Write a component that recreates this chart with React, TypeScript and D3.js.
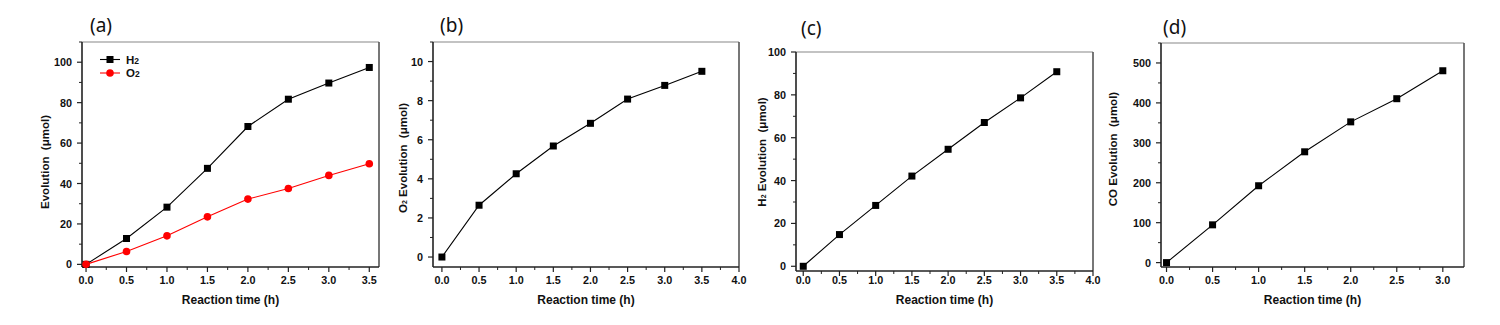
import React from "react";
import * as d3 from "d3";

const timesA = [0, 0.5, 1.0, 1.5, 2.0, 2.5, 3.0, 3.5];
const h2A = [0, 12.8, 28.3, 47.5, 68.2, 81.7, 89.7, 97.4];
const o2A = [0, 6.4, 14.1, 23.5, 32.3, 37.5, 44.0, 49.8];

const timesB = [0, 0.5, 1.0, 1.5, 2.0, 2.5, 3.0, 3.5];
const o2B = [0, 2.65, 4.26, 5.68, 6.84, 8.08, 8.78, 9.5];

const timesC = [0, 0.5, 1.0, 1.5, 2.0, 2.5, 3.0, 3.5];
const h2C = [0, 14.8, 28.4, 42.1, 54.6, 67.1, 78.6, 90.8];

const timesD = [0, 0.5, 1.0, 1.5, 2.0, 2.5, 3.0];
const coD = [0, 94.6, 192.5, 277.5, 352.5, 410.5, 480.5];

const xTicksA = [0, 0.5, 1.0, 1.5, 2.0, 2.5, 3.0, 3.5];
const xTicksB = [0, 0.5, 1.0, 1.5, 2.0, 2.5, 3.0, 3.5, 4.0];
const xTicksD = [0, 0.5, 1.0, 1.5, 2.0, 2.5, 3.0];
const yTicksA = [0, 20, 40, 60, 80, 100];
const yTicksB = [0, 2, 4, 6, 8, 10];
const yTicksC = [0, 20, 40, 60, 80, 100];
const yTicksD = [0, 100, 200, 300, 400, 500];

const FONT = "'Liberation Sans', Arial, sans-serif";

type Series = { xs: number[]; ys: number[]; color: string; marker: "square" | "circle" };

type PanelProps = {
  box: { l: number; t: number; r: number; b: number };
  xDomain: [number, number];
  yDomain: [number, number];
  xTicks: number[];
  yTicks: number[];
  xMinorStep: number;
  yMinorStep: number;
  series: Series[];
  label: string;
  labelPos: [number, number];
  yTitle: React.ReactNode;
  yTitlePos: [number, number];
  legend?: boolean;
};

function Panel(p: PanelProps) {
  const { l, t, r, b } = p.box;
  const x = d3.scaleLinear().domain(p.xDomain).range([l, r]);
  const y = d3.scaleLinear().domain(p.yDomain).range([b, t]);
  const xMinor = d3.range(0, p.xDomain[1] + 1e-9, p.xMinorStep).filter(
    (v) => !p.xTicks.some((tk) => Math.abs(tk - v) < 1e-9)
  );
  const yMinor = d3.range(0, p.yDomain[1] + 1e-9, p.yMinorStep).filter(
    (v) => !p.yTicks.some((tk) => Math.abs(tk - v) < 1e-9)
  );
  const line = d3
    .line<[number, number]>()
    .x((d) => x(d[0]))
    .y((d) => y(d[1]));
  const xFmt = d3.format(".1f");
  return (
    <g>
      {/* frame */}
      <line x1={l} y1={t} x2={r} y2={t} stroke="#888" strokeWidth={1.2} />
      <line x1={r} y1={t} x2={r} y2={b} stroke="#555" strokeWidth={1.6} />
      <line x1={l} y1={t} x2={l} y2={b} stroke="#222" strokeWidth={1.6} />
      <line x1={l} y1={b} x2={r} y2={b} stroke="#222" strokeWidth={1.6} />
      {/* x ticks */}
      {p.xTicks.map((v) => (
        <g key={"xt" + v}>
          <line x1={x(v)} x2={x(v)} y1={b} y2={b + 5} stroke="#222" strokeWidth={1.2} />
          <text
            x={x(v)}
            y={284}
            textAnchor="middle"
            fontFamily={FONT}
            fontWeight="bold"
            fontSize={10.8}
            fill="#111"
          >
            {xFmt(v)}
          </text>
        </g>
      ))}
      {xMinor.map((v) => (
        <line key={"xm" + v} x1={x(v)} x2={x(v)} y1={b} y2={b + 3} stroke="#222" strokeWidth={1} />
      ))}
      {/* y ticks */}
      {p.yTicks.map((v) => (
        <g key={"yt" + v}>
          <line x1={l - 5} x2={l} y1={y(v)} y2={y(v)} stroke="#222" strokeWidth={1.2} />
          <text
            x={l - 10}
            y={y(v) + 4}
            textAnchor="end"
            fontFamily={FONT}
            fontWeight="bold"
            fontSize={10.8}
            fill="#111"
          >
            {v}
          </text>
        </g>
      ))}
      {yMinor.map((v) => (
        <line key={"ym" + v} x1={l - 3} x2={l} y1={y(v)} y2={y(v)} stroke="#222" strokeWidth={1} />
      ))}
      {/* series */}
      {p.series.map((s, si) => {
        const pts = s.xs.map((xv, i) => [xv, s.ys[i]] as [number, number]);
        return (
          <g key={"s" + si}>
            <path d={line(pts) || ""} fill="none" stroke={s.color} strokeWidth={1.1} />
            {pts.map((d, i) =>
              s.marker === "square" ? (
                <rect
                  key={i}
                  x={x(d[0]) - 3.5}
                  y={y(d[1]) - 3.5}
                  width={7}
                  height={7}
                  fill={s.color}
                />
              ) : (
                <circle key={i} cx={x(d[0])} cy={y(d[1])} r={3.8} fill={s.color} />
              )
            )}
          </g>
        );
      })}
      {/* legend */}
      {p.legend && (
        <g fontFamily={FONT} fontWeight="bold" fontSize={11.5} fill="#111">
          <line x1={100} x2={120} y1={59.5} y2={59.5} stroke="#000" strokeWidth={1.1} />
          <rect x={106.5} y={56} width={7} height={7} fill="#000" />
          <text x={126} y={63.5}>
            H<tspan fontSize={8.5}>2</tspan>
          </text>
          <line x1={100} x2={120} y1={73} y2={73} stroke="#ff0000" strokeWidth={1.1} />
          <circle cx={110} cy={73} r={3.8} fill="#ff0000" />
          <text x={126} y={77}>
            O<tspan fontSize={8.5}>2</tspan>
          </text>
        </g>
      )}
      {/* x title */}
      <text
        x={(l + r) / 2}
        y={304}
        textAnchor="middle"
        fontFamily={FONT}
        fontWeight="bold"
        fontSize={12}
        fill="#111"
      >
        Reaction time (h)
      </text>
      {/* y title */}
      <text
        transform={`translate(${p.yTitlePos[0]},${p.yTitlePos[1]}) rotate(-90)`}
        textAnchor="middle"
        fontFamily={FONT}
        fontWeight="bold"
        fontSize={11.5}
        fill="#111"
        style={{ whiteSpace: "pre" }}
      >
        {p.yTitle}
      </text>
      {/* panel label */}
      <text
        x={p.labelPos[0]}
        y={p.labelPos[1]}
        fontFamily="'Noto Sans', 'Open Sans', sans-serif"
        fontSize={19}
        fill="#111"
      >
        {p.label}
      </text>
    </g>
  );
}

export default function App() {
  return (
    <svg width={1500} height={325} style={{ display: "block", position: "absolute", left: 0, top: 0 }}>
      <rect width={1500} height={325} fill="#fff" />
      <Panel
        box={{ l: 82, t: 42, r: 379, b: 267 }}
        xDomain={[-0.05, 3.62]}
        yDomain={[-1.3, 110]}
        xTicks={xTicksA}
        yTicks={yTicksA}
        xMinorStep={0.25}
        yMinorStep={10}
        series={[
          { xs: timesA, ys: h2A, color: "#000", marker: "square" },
          { xs: timesA, ys: o2A, color: "#ff0000", marker: "circle" },
        ]}
        label="(a)"
        labelPos={[90, 32]}
        yTitle={"Evolution  (μmol)"}
        yTitlePos={[49, 162]}
        legend
      />
      <Panel
        box={{ l: 433, t: 42, r: 739, b: 267 }}
        xDomain={[-0.12, 4.0]}
        yDomain={[-0.51, 11]}
        xTicks={xTicksB}
        yTicks={yTicksB}
        xMinorStep={0.25}
        yMinorStep={1}
        series={[{ xs: timesB, ys: o2B, color: "#000", marker: "square" }]}
        label="(b)"
        labelPos={[440, 32]}
        yTitle={
          <>
            O<tspan fontSize={7}>2</tspan>
            <tspan> Evolution  (μmol)</tspan>
          </>
        }
        yTitlePos={[407, 158]}
      />
      <Panel
        box={{ l: 796, t: 52, r: 1093, b: 271 }}
        xDomain={[-0.1, 4.0]}
        yDomain={[-2.2, 100]}
        xTicks={xTicksB}
        yTicks={yTicksC}
        xMinorStep={0.25}
        yMinorStep={10}
        series={[{ xs: timesC, ys: h2C, color: "#000", marker: "square" }]}
        label="(c)"
        labelPos={[801, 35]}
        yTitle={
          <>
            H<tspan fontSize={7}>2</tspan>
            <tspan> Evolution  (μmol)</tspan>
          </>
        }
        yTitlePos={[766, 152]}
      />
      <Panel
        box={{ l: 1161, t: 43, r: 1464, b: 267 }}
        xDomain={[-0.06, 3.23]}
        yDomain={[-11, 550]}
        xTicks={xTicksD}
        yTicks={yTicksD}
        xMinorStep={0.25}
        yMinorStep={50}
        series={[{ xs: timesD, ys: coD, color: "#000", marker: "square" }]}
        label="(d)"
        labelPos={[1163, 34]}
        yTitle={"CO Evolution  (μmol)"}
        yTitlePos={[1117, 149]}
      />
    </svg>
  );
}
